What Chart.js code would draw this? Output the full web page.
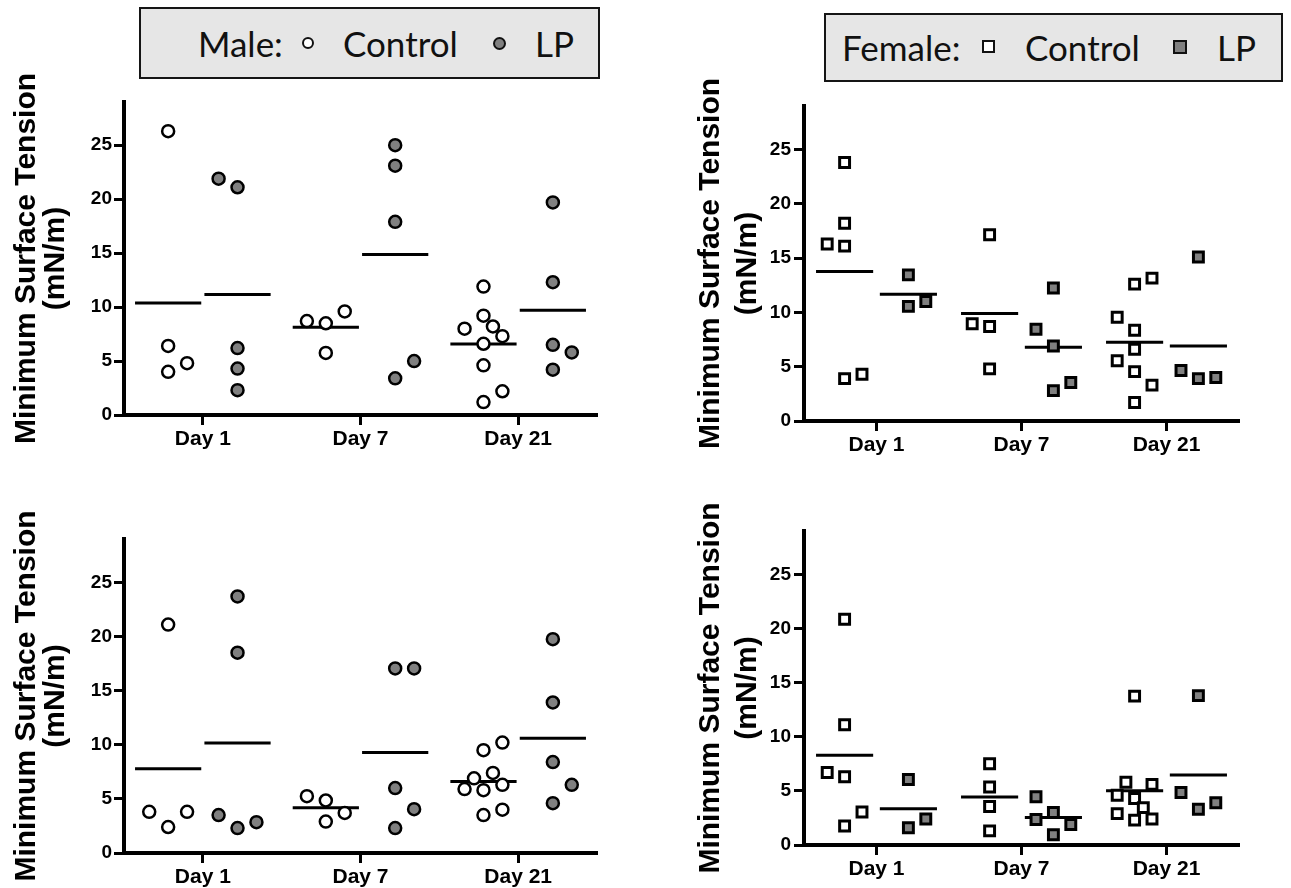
<!DOCTYPE html>
<html>
<head>
<meta charset="utf-8">
<script src="https://cdn.jsdelivr.net/npm/chart.js@4.4.1/dist/chart.umd.min.js"></script>
<style>
html,body{margin:0;padding:0;background:#fff;}
body{width:1291px;height:888px;position:relative;overflow:hidden;}
canvas{position:absolute;}
.legend{position:absolute;background:#e6e6e6;border:2px solid #151515;box-sizing:border-box;font-family:Lato,'Open Sans',sans-serif;font-size:35px;color:#111;z-index:2;}
.legend .t{position:absolute;top:0;white-space:nowrap;}
.mk{position:absolute;box-sizing:border-box;border:2px solid #111;}
</style>
</head>
<body>
<div class="legend" id="lg1" style="left:139px;top:7px;width:461px;height:72px;">
  <span class="t" style="left:57px;line-height:68px;">Male:</span>
  <div class="mk" style="left:161px;top:28px;width:12px;height:12px;border-radius:50%;background:#fff;"></div>
  <span class="t" style="left:202px;line-height:68px;">Control</span>
  <div class="mk" style="left:352px;top:28px;width:13px;height:13px;border-radius:50%;background:#808080;"></div>
  <span class="t" style="left:394px;line-height:68px;">LP</span>
</div>
<div class="legend" id="lg2" style="left:824px;top:13px;width:459px;height:69px;">
  <span class="t" style="left:16px;line-height:65px;">Female:</span>
  <div class="mk" style="left:156px;top:25px;width:13px;height:13px;background:#fff;border-width:2.5px;"></div>
  <span class="t" style="left:199px;line-height:65px;">Control</span>
  <div class="mk" style="left:347px;top:25px;width:14px;height:14px;background:#808080;border-width:2.5px;"></div>
  <span class="t" style="left:391px;line-height:65px;">LP</span>
</div>
<canvas id="c1" width="620" height="400" style="left:0px;top:60px;"></canvas>
<canvas id="c2" width="611" height="405" style="left:680px;top:60px;"></canvas>
<canvas id="c3" width="620" height="408" style="left:0px;top:480px;"></canvas>
<canvas id="c4" width="611" height="408" style="left:680px;top:480px;"></canvas>
<script>
// ---------------- data ----------------
const categories = ['Day 1', 'Day 7', 'Day 21'];
const yTickValues = [0, 5, 10, 15, 20, 25];
const yMax = 29;
const yTitle = ['Minimum Surface Tension', '(mN/m)'];

// Male, upper panel (values per day; slot = horizontal column in the dot cluster)
const maleTopControl = [[26.3, 6.4, 4.0, 4.8], [8.7, 8.5, 9.6, 5.75], [11.9, 9.2, 8.2, 8.0, 7.3, 6.6, 4.6, 2.2, 1.2]];
const maleTopControlSlots = [[0, 0, 0, 1], [-1, 0, 1, 0], [0, 0, 0.5, -1, 1, 0, 0, 1, 0]];
const maleTopLP = [[21.9, 21.1, 6.2, 4.3, 2.3], [25.0, 23.1, 17.9, 3.4, 5.0], [19.7, 12.3, 6.5, 5.8, 4.2]];
const maleTopLPSlots = [[-1, 0, 0, 0, 0], [0, 0, 0, 0, 1], [0, 0, 0, 1, 0]];

// Female, upper panel
const femaleTopControl = [[23.8, 18.2, 16.3, 16.1, 3.9, 4.3], [17.15, 8.95, 8.7, 4.8], [12.6, 13.15, 9.55, 8.35, 6.6, 5.55, 4.55, 3.3, 1.7]];
const femaleTopControlSlots = [[0, 0, -1, 0, 0, 1], [0, -1, 0, 0], [0, 1, -1, 0, 0, -1, 0, 1, 0]];
const femaleTopLP = [[13.45, 10.55, 11.0], [12.25, 8.45, 6.9, 2.8, 3.55], [15.1, 4.65, 3.9, 4.0]];
const femaleTopLPSlots = [[0, 0, 1], [0, -1, 0, 0, 1], [0, -1, 0, 1]];

// Male, lower panel
const maleBottomControl = [[21.1, 3.8, 2.4, 3.8], [5.25, 4.85, 3.7, 2.9], [9.5, 10.2, 7.4, 6.9, 5.9, 5.8, 6.3, 3.5, 4.0]];
const maleBottomControlSlots = [[0, -1, 0, 1], [-1, 0, 1, 0], [0, 1, 0.5, -0.5, -1, 0, 1, 0, 1]];
const maleBottomLP = [[23.7, 18.5, 3.5, 2.3, 2.85], [17.05, 17.05, 6.0, 4.05, 2.3], [19.75, 13.9, 8.4, 6.3, 4.6]];
const maleBottomLPSlots = [[0, 0, -1, 0, 1], [0, 1, 0, 1, 0], [0, 0, 0, 1, 0]];

// Female, lower panel
const femaleBottomControl = [[20.85, 11.1, 6.7, 6.3, 3.05, 1.75], [7.5, 5.35, 3.55, 1.3], [13.75, 5.8, 5.6, 4.6, 4.3, 3.45, 2.9, 2.3, 2.4]];
const femaleBottomControlSlots = [[0, 0, -1, 0, 1, 0], [0, 0, 0, 0], [0, -0.5, 1, -1, 0, 0.5, -1, 0, 1]];
const femaleBottomLP = [[6.05, 1.6, 2.4], [4.45, 2.35, 3.0, 1.9, 0.95], [13.8, 4.85, 3.3, 3.9]];
const femaleBottomLPSlots = [[0, 0, 1], [-1, -1, 0, 1, 0], [0, -1, 0, 1]];

// ---------------- drawing ----------------
const GRAY = '#808080';
const GROUP_OFFSET = 0.22;
const SLOT = 0.12;
const FONT = "'Liberation Sans', Arial, Helvetica, sans-serif";

function buildDatasets(p) {
  const ds = [];
  const groups = [
    {vals: p.ctrl, slots: p.ctrlS, side: -1, fill: '#ffffff'},
    {vals: p.lp, slots: p.lpS, side: 1, fill: GRAY}
  ];
  groups.forEach(g => {
    const pts = [];
    g.vals.forEach((dayVals, d) => dayVals.forEach((v, k) => {
      pts.push({x: d + 1 + g.side * GROUP_OFFSET + g.slots[d][k] * SLOT, y: v});
    }));
    ds.push({
      data: pts, showLine: false,
      pointStyle: p.style, pointRadius: p.r, pointHoverRadius: p.r,
      pointBackgroundColor: g.fill, pointBorderColor: '#000', pointBorderWidth: p.bw,
      order: 0
    });
    g.vals.forEach((dayVals, d) => {
      const m = dayVals.reduce((a, b) => a + b, 0) / dayVals.length;
      const c = d + 1 + g.side * GROUP_OFFSET;
      ds.push({
        data: [{x: c - p.half, y: m}, {x: c + p.half, y: m}],
        showLine: true, pointRadius: 0, borderColor: '#000', borderWidth: 3,
        order: 1
      });
    });
  });
  return ds;
}

function makeChart(p) {
  return new Chart(document.getElementById(p.id), {
    type: 'scatter',
    data: {datasets: buildDatasets(p)},
    options: {
      responsive: false, animation: false, devicePixelRatio: 1, events: [],
      layout: {padding: {left: 0, right: p.padRight, top: p.padTop, bottom: 0}},
      plugins: {legend: {display: false}, tooltip: {enabled: false}},
      scales: {
        x: {
          type: 'linear', min: 0.5, max: 3.5,
          afterBuildTicks: a => { a.ticks = categories.map((c, i) => ({value: i + 1})); },
          afterFit: s => { s.height = p.xH; },
          ticks: {
            callback: v => categories[v - 1] || '',
            color: '#000', padding: 2, maxRotation: 0, autoSkip: false,
            font: {family: FONT, size: 21, weight: 'bold'}
          },
          grid: {drawOnChartArea: false, drawTicks: true, tickLength: 10, tickWidth: 3, tickColor: '#000'},
          border: {display: true, color: '#000', width: 4}
        },
        y: {
          type: 'linear', min: 0, max: yMax,
          afterBuildTicks: a => { a.ticks = yTickValues.map(v => ({value: v})); },
          afterFit: s => { s.width = p.yW; },
          ticks: {color: '#000', padding: p.tickPad, font: {family: FONT, size: 19, weight: 'bold'}},
          grid: {drawOnChartArea: false, drawTicks: true, tickLength: 10, tickWidth: 3, tickColor: '#000'},
          border: {display: true, color: '#000', width: 4},
          title: {
            display: true, text: yTitle, color: '#000',
            font: {family: FONT, size: 30, weight: 'bold', lineHeight: p.titleLH},
            padding: {top: 12, bottom: 0}
          }
        }
      }
    }
  });
}

const panels = [
  {id: 'c1', ctrl: maleTopControl, ctrlS: maleTopControlSlots, lp: maleTopLP, lpS: maleTopLPSlots,
   style: 'circle', r: 6, bw: 2.5, half: 0.21, padTop: 42, padRight: 23, yW: 124, xH: 45, titleLH: '29px', tickPad: 2},
  {id: 'c2', ctrl: femaleTopControl, ctrlS: femaleTopControlSlots, lp: femaleTopLP, lpS: femaleTopLPSlots,
   style: 'rect', r: 7, bw: 3, half: 0.197, padTop: 46, padRight: 52, yW: 124, xH: 44, titleLH: '37px', tickPad: 3},
  {id: 'c3', ctrl: maleBottomControl, ctrlS: maleBottomControlSlots, lp: maleBottomLP, lpS: maleBottomLPSlots,
   style: 'circle', r: 6, bw: 2.5, half: 0.21, padTop: 59, padRight: 23, yW: 124, xH: 35, titleLH: '29px', tickPad: 2},
  {id: 'c4', ctrl: femaleBottomControl, ctrlS: femaleBottomControlSlots, lp: femaleBottomLP, lpS: femaleBottomLPSlots,
   style: 'rect', r: 7, bw: 3, half: 0.197, padTop: 51, padRight: 52, yW: 124, xH: 43, titleLH: '37px', tickPad: 3}
];
panels.forEach(makeChart);
</script>
</body>
</html>
